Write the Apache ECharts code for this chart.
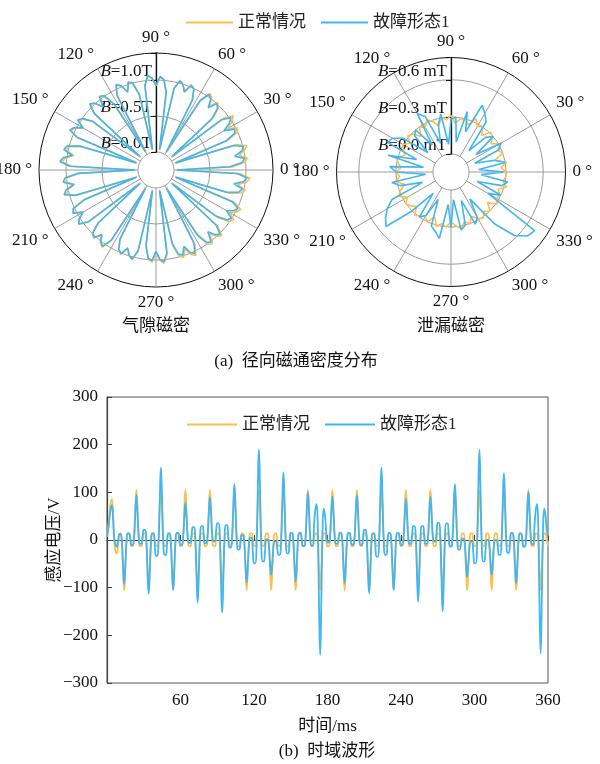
<!DOCTYPE html>
<html>
<head>
<meta charset="utf-8">
<script src="https://cdn.jsdelivr.net/npm/echarts@6/dist/echarts.min.js"></script>
<style>
  html, body { margin: 0; padding: 0; background: #fff; }
  #chart { width: 600px; height: 764px; }
</style>
</head>
<body>
<div id="chart"></div>
<script>
// ---------- (a) 气隙磁密, T, sampled every 2.5° from 0°
const gapStep = 2.5;
const gapNormal = [
  0.03, 0.82, 0.99, 1.03, 0.92, 1.01, 1.05, 0.92,
  0.03, 0.84, 1.00, 1.02, 0.90, 1.00, 1.06, 0.93,
  0.03, 0.83, 0.98, 1.02, 0.91, 1.02, 1.05, 0.91,
  0.03, 0.85, 1.00, 1.03, 0.92, 1.00, 1.04, 0.92,
  0.03, 0.84, 1.01, 1.04, 0.93, 1.02, 1.06, 0.93,
  0.03, 0.82, 0.99, 1.02, 0.91, 1.01, 1.05, 0.92,
  0.03, 0.83, 1.00, 1.03, 0.90, 1.00, 1.04, 0.91,
  0.03, 0.85, 0.98, 1.02, 0.92, 1.01, 1.05, 0.93,
  0.03, 0.84, 1.00, 1.03, 0.91, 1.02, 1.06, 0.92,
  0.03, 0.82, 0.99, 1.02, 0.90, 1.00, 1.04, 0.91,
  0.03, 0.83, 1.01, 1.04, 0.92, 1.01, 1.05, 0.93,
  0.03, 0.85, 1.00, 1.03, 0.93, 1.02, 1.06, 0.92,
  0.03, 0.84, 0.98, 1.02, 0.91, 1.00, 1.04, 0.91,
  0.03, 0.82, 1.00, 1.03, 0.90, 1.01, 1.05, 0.93,
  0.03, 0.83, 0.99, 1.02, 0.92, 1.02, 1.06, 0.92,
  0.03, 0.85, 1.01, 1.04, 0.91, 1.00, 1.04, 0.91,
  0.03, 0.84, 1.00, 1.03, 0.93, 1.01, 1.05, 0.93,
  0.03, 0.82, 0.98, 1.02, 0.90, 1.02, 1.06, 0.92
];
const gapFault = [
  0.04, 0.78, 0.95, 0.99, 0.86, 0.97, 1.01, 0.88,
  0.04, 0.80, 0.96, 0.98, 0.84, 0.96, 1.02, 0.89,
  0.04, 0.80, 0.96, 1.00, 0.88, 1.00, 1.03, 0.89,
  0.04, 0.84, 0.99, 1.02, 0.90, 0.99, 1.03, 0.91,
  0.04, 0.84, 1.01, 1.05, 0.92, 1.03, 1.07, 0.93,
  0.04, 0.83, 1.00, 1.03, 0.90, 1.02, 1.06, 0.93,
  0.04, 0.84, 1.01, 1.04, 0.89, 1.01, 1.05, 0.92,
  0.04, 0.86, 1.00, 1.04, 0.92, 1.03, 1.07, 0.94,
  0.04, 0.86, 1.03, 1.06, 0.93, 1.05, 1.09, 0.95,
  0.04, 0.84, 1.02, 1.05, 0.91, 1.03, 1.07, 0.93,
  0.04, 0.83, 1.02, 1.05, 0.92, 1.02, 1.06, 0.93,
  0.04, 0.84, 0.99, 1.02, 0.92, 1.01, 1.04, 0.91,
  0.04, 0.83, 0.97, 1.01, 0.90, 0.99, 1.03, 0.90,
  0.04, 0.81, 0.98, 1.01, 0.88, 0.99, 1.03, 0.91,
  0.04, 0.80, 0.96, 0.99, 0.88, 0.99, 1.03, 0.89,
  0.04, 0.82, 0.98, 1.01, 0.87, 0.97, 1.01, 0.88,
  0.04, 0.80, 0.96, 0.99, 0.88, 0.97, 1.01, 0.89,
  0.04, 0.78, 0.94, 0.98, 0.85, 0.98, 1.02, 0.88
];
const gapRings = [0, 0.5, 1.0];
const gapMax = 1.375;

// ---------- (a) 泄漏磁密, mT, sampled every 5° from 0°
const leakStep = 5;
const leakNormal = [
  0.30, 0.26, 0.31, 0.22, 0.30, 0.27, 0.32, 0.25, 0.29, 0.31, 0.24, 0.30,
  0.28, 0.33, 0.26, 0.30, 0.29, 0.25, 0.31, 0.28, 0.30, 0.24, 0.29, 0.32,
  0.27, 0.30, 0.23, 0.29, 0.31, 0.26, 0.30, 0.28, 0.25, 0.31, 0.29, 0.26,
  0.30, 0.27, 0.31, 0.24, 0.29, 0.32, 0.26, 0.30, 0.28, 0.25, 0.31, 0.29,
  0.27, 0.30, 0.24, 0.31, 0.28, 0.30, 0.26, 0.29, 0.32, 0.27, 0.30, 0.25,
  0.29, 0.31, 0.27, 0.30, 0.24, 0.31, 0.28, 0.29, 0.26, 0.32, 0.28, 0.30
];
const leakFault = [
  0.28, 0.08, 0.30, 0.22, 0.06, 0.28, 0.32, 0.10, 0.30, 0.25, 0.08, 0.35,
  0.40, 0.45, 0.20, 0.36, 0.10, 0.30, 0.28, 0.08, 0.33, 0.25, 0.10, 0.35,
  0.40, 0.12, 0.30, 0.27, 0.10, 0.33, 0.40, 0.42, 0.15, 0.38, 0.08, 0.35,
  0.30, 0.06, 0.34, 0.28, 0.10, 0.38, 0.45, 0.50, 0.54, 0.30, 0.08, 0.30,
  0.26, 0.10, 0.32, 0.35, 0.40, 0.12, 0.30, 0.08, 0.33, 0.30, 0.10, 0.32,
  0.28, 0.12, 0.40, 0.58, 0.66, 0.68, 0.20, 0.30, 0.08, 0.28, 0.32, 0.10
];
const leakRings = [0, 0.3, 0.6];
const leakMax = 0.78;

// ---------- (b) 时域波形, V, sampled every 1 ms from 0 to 360 ms
const timeStep = 1;
const voltNormal = [
  7, 28, 55, 78, 85, 48, -5, -24, -28, -10, 12, 14, 0, -58, -105, -58, 0, 14, 14, 0,
  -13, -13, 1, 58, 105, 58, 1, -13, -13, 0, 14, 14, 0, -58, -105, -58, 0, 14, 14, 0,
  -13, -13, 1, 58, 105, 58, 1, -13, -13, 0, 14, 14, 0, -58, -105, -58, 0, 14, 14, 0,
  -13, -13, 1, 58, 105, 58, 1, -13, -13, 0, 14, 14, 0, -58, -105, -58, 0, 14, 14, 0,
  -13, -13, 1, 58, 105, 58, 1, -13, -13, 0, 14, 14, 0, -58, -105, -58, 0, 14, 14, 0,
  -13, -13, 1, 58, 105, 58, 1, -13, -13, 0, 14, 14, 0, -58, -105, -58, 0, 14, 14, 0,
  -13, -13, 1, 58, 105, 58, 1, -13, -13, 0, 14, 14, 0, -58, -105, -58, 0, 14, 14, 0,
  -13, -13, 1, 58, 105, 58, 1, -13, -13, 0, 14, 14, 0, -58, -105, -58, 0, 14, 14, 0,
  -13, -13, 1, 58, 105, 58, 1, -13, -13, 0, 14, 14, 0, -58, -105, -58, 0, 14, 14, 0,
  -13, -13, 1, 58, 105, 58, 1, -13, -13, 0, 14, 14, 0, -58, -105, -58, 0, 14, 14, 0,
  -13, -13, 1, 58, 105, 58, 1, -13, -13, 0, 14, 14, 0, -58, -105, -58, 0, 14, 14, 0,
  -13, -13, 1, 58, 105, 58, 1, -13, -13, 0, 14, 14, 0, -58, -105, -58, 0, 14, 14, 0,
  -13, -13, 1, 58, 105, 58, 1, -13, -13, 0, 14, 14, 0, -58, -105, -58, 0, 14, 14, 0,
  -13, -13, 1, 58, 105, 58, 1, -13, -13, 0, 14, 14, 0, -58, -105, -58, 0, 14, 14, 0,
  -13, -13, 1, 58, 105, 58, 1, -13, -13, 0, 14, 14, 0, -58, -105, -58, 0, 14, 14, 0,
  -13, -13, 1, 58, 105, 58, 1, -13, -13, 0, 14, 14, 0, -58, -105, -58, 0, 14, 14, 0,
  -13, -13, 1, 58, 105, 58, 1, -13, -13, 0, 14, 14, 0, -58, -105, -58, 0, 14, 14, 0,
  -13, -13, 1, 58, 105, 58, 1, -13, -13, 0, 14, 14, 0, -58, -105, -58, 0, 14, 14, 0,
  -13
];
const voltFault = [
  7, 22, 45, 65, 73, 42, 2, -10, -14, -2, 12, 13, 0, -50, -93, -50, 1, 14, 14, 2,
  -10, -10, 2, 52, 94, 52, 4, -8, -8, 6, 21, 21, 5, -60, -113, -62, -1, 14, 14, -10,
  -33, -33, -11, 78, 152, 80, -9, -31, -31, -8, 14, 14, 0, -57, -105, -57, 1, 15, 15, 2,
  -10, -10, 1, 42, 78, 44, 4, -6, -6, 10, 27, 27, 8, -68, -131, -67, 10, 29, 29, 11,
  -7, -7, 5, 50, 90, 52, 8, -3, -3, 16, 35, 35, 13, -78, -152, -80, 9, 31, 31, 8,
  -16, -16, 0, 63, 117, 61, -4, -20, -20, -5, 10, 10, -2, -49, -89, -52, -6, 5, 5, -22,
  -49, -49, -20, 94, 190, 96, -17, -45, -45, -22, 1, 1, -8, -44, -73, -45, -11, -3, -3, -17,
  -31, -31, -10, 73, 142, 75, -8, -28, -28, -6, 15, 15, 3, -47, -87, -47, 3, 15, 15, 1,
  -13, -13, 1, 54, 100, 55, 1, -12, -12, 31, 62, 75, 35, -125, -241, -120, 30, 66, 50, 15,
  -5, -5, 7, 52, 91, 50, 4, -8, -8, 4, 15, 15, 2, -49, -91, -49, 2, 15, 15, 2,
  -10, -10, 2, 52, 94, 52, 2, -10, -10, 5, 21, 21, 5, -59, -112, -62, -1, 14, 14, -10,
  -35, -35, -13, 78, 152, 80, -9, -31, -31, -8, 15, 15, 1, -57, -105, -57, 1, 15, 15, 2,
  -10, -10, 2, 47, 87, 48, 3, -8, -8, 10, 29, 29, 10, -66, -129, -66, 10, 29, 29, 10,
  -8, -8, 4, 51, 91, 53, 8, -3, -3, 16, 36, 36, 14, -76, -150, -77, 13, 35, 35, 10,
  -14, -14, 2, 64, 117, 61, -4, -20, -20, -8, 3, 3, -7, -45, -77, -48, -12, -3, -3, -26,
  -49, -49, -20, 94, 189, 96, -17, -45, -45, -22, 0, 0, -9, -44, -73, -44, -9, 0, 0, -15,
  -31, -31, -11, 72, 140, 74, -7, -27, -27, -6, 15, 15, 2, -49, -91, -50, 1, 14, 14, 0,
  -14, -14, 0, 54, 101, 56, 4, -9, -9, 31, 62, 75, 35, -123, -238, -118, 30, 66, 50, 20,
  8
];

const seriesNames = ['正常情况', '故障形态1'];
const colorNormal = '#FCBF4E';
const colorFault = '#42B6F0';
const SERIF = "'Liberation Serif', 'Noto Sans CJK SC', serif";
const INK = '#111';

// polar data: [radius, angle], closed back to the start
const toPolar = (vals, step) => {
  const pts = vals.map((v, i) => [v, i * step]);
  pts.push([vals[0], 360]);
  return pts;
};
const toTime = (vals) => vals.map((v, i) => [i * timeStep, v]);

const polarAngleAxis = (idx) => ({
  polarIndex: idx,
  type: 'value',
  min: 90,
  max: 450,
  interval: 30,
  startAngle: 90,
  clockwise: false,
  axisLine: { show: false },
  axisTick: { show: false },
  axisLabel: {
    formatter: (v) => (v % 360) + ' °',
    margin: 7,
    color: INK,
    fontSize: 17,
    fontFamily: SERIF
  },
  splitLine: { show: true, lineStyle: { color: '#9c9c9c', width: 1 } }
});

// rings drawn at the labelled values plus the outer edge (black)
const polarRadiusAxis = (idx, max, interval, rings, unit) => ({
  polarIndex: idx,
  type: 'value',
  min: 0,
  max: max,
  interval: interval,
  axisLine: { show: true, lineStyle: { color: INK, width: 1.3 } },
  axisTick: { show: true, length: 5, customValues: rings.concat([max]), lineStyle: { color: INK } },
  axisLabel: {
    customValues: rings,
    formatter: (v) => '{i|B}=' + v.toFixed(1) + unit,
    margin: 4,
    align: 'right',
    verticalAlign: 'bottom',
    color: INK,
    fontSize: 17,
    fontFamily: SERIF,
    rich: { i: { fontStyle: 'italic', fontSize: 17, fontFamily: SERIF, color: INK } }
  },
  splitLine: {
    show: true,
    lineStyle: { color: ['#9c9c9c', '#9c9c9c', '#9c9c9c', INK], width: 1 }
  }
});

const lineBase = { type: 'line', symbol: 'none', silent: true };

const chart = echarts.init(document.getElementById('chart'));
chart.setOption({
  animation: false,
  backgroundColor: '#fff',
  polar: [
    { center: [156, 170], radius: [18, 117] },
    { center: [451, 172], radius: [18, 114.5] }
  ],
  angleAxis: [polarAngleAxis(0), polarAngleAxis(1)],
  radiusAxis: [
    polarRadiusAxis(0, gapMax, 0.5, gapRings, 'T'),
    polarRadiusAxis(1, leakMax, 0.3, leakRings, ' mT')
  ],
  grid: {
    left: 107, top: 397, width: 441, height: 286,
    show: true, borderColor: '#555', borderWidth: 1
  },
  xAxis: {
    type: 'value', min: 0, max: 360, interval: 60,
    name: '时间/ms', nameLocation: 'middle', nameGap: 35, nameMoveOverlap: false,
    nameTextStyle: { color: INK, fontSize: 17, fontFamily: SERIF },
    axisLine: { lineStyle: { color: '#444', width: 1.2 } },
    axisTick: { inside: true, length: 5, lineStyle: { color: '#444' } },
    axisLabel: { formatter: (v) => (v === 0 ? '' : v), margin: 9, color: INK, fontSize: 17, fontFamily: SERIF },
    splitLine: { show: false }
  },
  yAxis: {
    type: 'value', min: -300, max: 300, interval: 100,
    name: '感应电压/V', nameLocation: 'middle', nameGap: 44, nameMoveOverlap: false,
    nameTextStyle: { color: INK, fontSize: 17, fontFamily: SERIF },
    axisLine: { lineStyle: { color: '#444', width: 1.2 } },
    axisTick: { inside: true, length: 5, lineStyle: { color: '#444' } },
    axisLabel: { formatter: (v) => (v < 0 ? '\u2212' + Math.abs(v) : String(v)), margin: 9, color: INK, fontSize: 17, fontFamily: SERIF },
    splitLine: { show: false }
  },
  legend: [
    {
      left: 181, top: 9, icon: 'rect', itemWidth: 47, itemHeight: 2, itemGap: 15,
      textStyle: { color: '#222', fontSize: 17, fontFamily: SERIF },
      data: seriesNames
    },
    {
      left: 182, top: 411, icon: 'rect', itemWidth: 50, itemHeight: 2, itemGap: 15,
      textStyle: { color: '#222', fontSize: 17, fontFamily: SERIF },
      data: seriesNames
    }
  ],
  graphic: [
    { type: 'text', x: 156, y: 327, style: { text: '气隙磁密', align: 'center', verticalAlign: 'middle', font: '17px ' + SERIF, fill: INK } },
    { type: 'text', x: 451, y: 327, style: { text: '泄漏磁密', align: 'center', verticalAlign: 'middle', font: '17px ' + SERIF, fill: INK } },
    { type: 'text', x: 296, y: 362, style: { text: '(a)  径向磁通密度分布', align: 'center', verticalAlign: 'middle', font: '17px ' + SERIF, fill: INK } },
    { type: 'text', x: 327, y: 752, style: { text: '(b)  时域波形', align: 'center', verticalAlign: 'middle', font: '17px ' + SERIF, fill: INK } }
  ],
  series: [
    Object.assign({}, lineBase, { name: seriesNames[0], coordinateSystem: 'polar', polarIndex: 0, data: toPolar(gapNormal, gapStep),
      itemStyle: { color: colorNormal }, lineStyle: { color: colorNormal, width: 1.6 } }),
    Object.assign({}, lineBase, { name: seriesNames[1], coordinateSystem: 'polar', polarIndex: 0, data: toPolar(gapFault, gapStep),
      itemStyle: { color: colorFault }, lineStyle: { color: colorFault, width: 1.6 } }),
    Object.assign({}, lineBase, { name: seriesNames[0], coordinateSystem: 'polar', polarIndex: 1, data: toPolar(leakNormal, leakStep),
      itemStyle: { color: colorNormal }, lineStyle: { color: colorNormal, width: 1.6 } }),
    Object.assign({}, lineBase, { name: seriesNames[1], coordinateSystem: 'polar', polarIndex: 1, data: toPolar(leakFault, leakStep),
      itemStyle: { color: colorFault }, lineStyle: { color: colorFault, width: 1.6 } }),
    Object.assign({}, lineBase, { name: seriesNames[0], xAxisIndex: 0, yAxisIndex: 0, data: toTime(voltNormal), smooth: 0.5,
      itemStyle: { color: colorNormal }, lineStyle: { color: colorNormal, width: 1.8 } }),
    Object.assign({}, lineBase, { name: seriesNames[1], xAxisIndex: 0, yAxisIndex: 0, data: toTime(voltFault), smooth: 0.5,
      itemStyle: { color: colorFault }, lineStyle: { color: colorFault, width: 1.8 } })
  ]
});
</script>
</body>
</html>
